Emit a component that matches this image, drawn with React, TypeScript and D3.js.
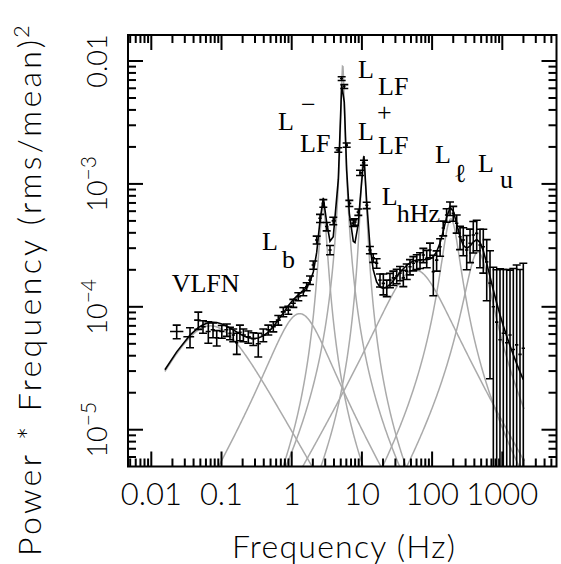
import React from 'react';
import * as d3 from 'd3';

// ---- Data ----
const freq = [
  0.023, 0.0356, 0.0467, 0.0545, 0.0649, 0.0757, 0.0855, 0.101, 0.119, 0.132,
  0.147, 0.165, 0.183, 0.205, 0.241, 0.284, 0.334, 0.394, 0.464, 0.547,
  0.644, 0.759, 0.895, 1.054, 1.242, 1.463, 1.635, 1.82, 2.03, 2.27,
  2.53, 2.82, 3.15, 3.51, 3.91, 4.61, 5.15, 5.61, 6.07, 6.62,
  7.54, 7.97, 8.89, 9.4, 10.7, 11.7, 13.0, 14.5, 16.2, 18.1,
  20.2, 22.6, 25.1, 28.0, 31.3, 34.9, 38.9, 43.5, 48.4, 54.0,
  60.4, 67.3, 75.0, 83.8, 93.3, 104, 116, 130, 144, 161,
  180, 200, 224, 250, 278, 311, 347, 386, 432, 481,
  536, 600, 668, 745, 832, 927, 1033, 1156, 1288, 1435,
  1603, 1787, 1991,
];
const power = [
  6.3e-5, 5.7e-5, 7.8e-5, 6.9e-5, 6.3e-5, 6.5e-5, 5.6e-5, 6.3e-5, 6.5e-5, 6.1e-5,
  5.9e-5, 5.1e-5, 6.2e-5, 5.9e-5, 5.7e-5, 5.5e-5, 5.0e-5, 5.9e-5, 6.5e-5, 6.9e-5,
  7.8e-5, 9.1e-5, 9.4e-5, 1.07e-4, 1.21e-4, 1.33e-4, 1.46e-4, 1.65e-4, 2.19e-4, 3.5e-4,
  5.25e-4, 6.95e-4, 4.5e-4, 2.9e-4, 5.0e-4, 1.89e-3, 7.2e-3, 6.2e-3, 2.07e-3, 6.95e-4,
  4.8e-4, 4.9e-4, 5.9e-4, 1.23e-3, 1.49e-3, 6.7e-4, 2.9e-4, 2.5e-4, 2.26e-4, 1.65e-4,
  1.55e-4, 1.43e-4, 1.65e-4, 1.72e-4, 1.78e-4, 1.88e-4, 1.72e-4, 1.95e-4, 2.12e-4, 2.26e-4,
  2.33e-4, 2.4e-4, 2.64e-4, 2.48e-4, 2.9e-4, 1.93e-4, 2.4e-4, 3.08e-4, 4.38e-4, 5.58e-4,
  6.33e-4, 5.77e-4, 4.78e-4, 3.72e-4, 3.5e-4, 2.9e-4, 3.29e-4, 3.84e-4, 3.96e-4, 3.18e-4,
  3.08e-4, 2.32e-4, 1.56e-4, 1.0e-4, 7.5e-5, 5.4e-5, 6.1e-5, 5.1e-5, 5.9e-5, 4.5e-5,
  4.9e-5, 4.1e-5, 4.6e-5,
];
const powerErr = [
  8e-6, 1.05e-5, 1.25e-5, 8e-6, 1.25e-5, 9e-6, 8e-6, 7.5e-6, 7.5e-6, 7e-6,
  7e-6, 1.0e-5, 9e-6, 7e-6, 6.5e-6, 6.5e-6, 1.1e-5, 7e-6, 6e-6, 6.5e-6,
  7e-6, 8e-6, 7e-6, 8e-6, 9e-6, 1.0e-5, 1.1e-5, 1.3e-5, 1.7e-5, 2.6e-5,
  4e-5, 5e-5, 3.5e-5, 2.5e-5, 3.5e-5, 8e-5, 2.5e-4, 2.2e-4, 8e-5, 4e-5,
  3e-5, 3e-5, 3.5e-5, 6e-5, 7e-5, 4e-5, 2e-5, 2e-5, 2e-5, 2e-5,
  3e-5, 2.2e-5, 2.2e-5, 2.3e-5, 2.4e-5, 2.5e-5, 2.6e-5, 2.8e-5, 3e-5, 3e-5,
  3.2e-5, 3.5e-5, 3.5e-5, 4e-5, 4e-5, 7e-5, 4.5e-5, 5e-5, 6e-5, 7e-5,
  8e-5, 8e-5, 8e-5, 8e-5, 9e-5, 9e-5, 1.0e-4, 1.1e-4, 1.1e-4, 1.1e-4,
  1.2e-4, 1.2e-4, 1.3e-4, 1.1e-4, 1.25e-4, 1.5e-4, 1.4e-4, 1.5e-4, 1.4e-4, 1.6e-4,
  1.7e-4, 1.6e-4, 1.8e-4,
];

// Lorentzian components: characteristic frequency (Hz), quality factor, peak of nu*P
const compNames = ['VLFN', 'Lb', 'LLF-', 'LLF', 'LLF+', 'LhHz', 'Ll', 'Lu'];
const compNuMax = [0.07, 1.3, 2.8, 5.33, 10.5, 57, 185, 450];
const compQ = [0, 0.4, 4, 10, 6, 0.3, 1.8, 1.2];
const compPeak = [7.0e-5, 8.8e-5, 6.5e-4, 9.3e-3, 1.66e-3, 2.0e-4, 5.2e-4, 2.8e-4];

const modelStart = 1 / 64;
const modelEnd = 2048;

const xMajor = [0.01, 0.1, 1, 10, 100, 1000];
const xMajorLabels = ['0.01', '0.1', '1', '10', '100', '1000'];
const yMajor = [1e-2, 1e-3, 1e-4, 1e-5];
const yMajorBase = ['0.01', '10', '10', '10'];
const yMajorExp = ['', '\u22123', '\u22124', '\u22125'];

// ---- Layout ----
const W = 561;
const H = 564;
const PL = 128;
const PR = 556.5;
const PT = 35;
const PB = 466.5;

const SANS = 'Lato, Liberation Sans, Arial, sans-serif';
const SANS_W = 300;
const SERIF = 'Liberation Serif, Times New Roman, serif';

function lorentz(numax: number, q: number, peak: number) {
  const nu0 = q > 0 ? numax / Math.sqrt(1 + 1 / (4 * q * q)) : 0;
  const delta = q > 0 ? nu0 / (2 * q) : numax;
  const shape = (nu: number) => (nu * delta) / (delta * delta + (nu - nu0) * (nu - nu0));
  const norm = peak / shape(numax);
  return (nu: number) => norm * shape(nu);
}

export default function App() {
  const x = d3.scaleLog().domain([0.004656, 5916]).range([PL, PR]);
  const y = d3.scaleLog().domain([5.02e-6, 0.01628]).range([PB, PT]);
  const [xd0, xd1] = x.domain();
  const [yd0, yd1] = y.domain();

  const comps = compNuMax.map((nm, i) => lorentz(nm, compQ[i], compPeak[i]));
  const total = (nu: number) => comps.reduce((s, f) => s + f(nu), 0);

  const lg0 = Math.log10(modelStart);
  const lg1 = Math.log10(modelEnd);
  const grid = d3.range(701).map((i) => Math.pow(10, lg0 + (i * (lg1 - lg0)) / 700));

  const line = d3
    .line<[number, number]>()
    .x((d) => x(d[0]))
    .y((d) => y(Math.max(d[1], 1e-9)));

  const compPaths = comps.map((f) => line(grid.map((nu) => [nu, f(nu)] as [number, number])) || '');
  const modelFreqs = [modelStart, ...freq];
  const modelPath = line(modelFreqs.map((nu) => [nu, total(nu)] as [number, number])) || '';

  const xMinor: number[] = [];
  for (let k = -3; k <= 3; k++) for (let d = 2; d <= 9; d++) {
    const v = d * Math.pow(10, k);
    if (v > xd0 && v < xd1) xMinor.push(v);
  }
  const yMinor: number[] = [];
  for (let k = -6; k <= -2; k++) for (let d = 2; d <= 9; d++) {
    const v = d * Math.pow(10, k);
    if (v > yd0 && v < yd1) yMinor.push(v);
  }

  const logs = freq.map((f) => Math.log10(f));
  const n = freq.length;
  const bars = freq.map((f, i) => {
    const lo = i > 0 ? (logs[i - 1] + logs[i]) / 2 : logs[0] - (logs[1] - logs[0]) / 2;
    const hi = i < n - 1 ? (logs[i] + logs[i + 1]) / 2 : logs[i] + (logs[i] - logs[i - 1]) / 2;
    const p = power[i];
    const e = powerErr[i];
    const yc = y(p);
    const yt = y(p + e);
    const yb = p - e > 0 ? Math.min(y(p - e), PB + 4) : PB + 4;
    return { x1: x(Math.pow(10, lo)), x2: x(Math.pow(10, hi)), xc: x(f), yc, yt, yb };
  });

  const majLen = 15;
  const minLen = 8;
  const cap = 4;

  return (
    <svg width={W} height={H} style={{ position: 'absolute', left: 0, top: 0, background: '#fff' }}>
      <rect x={0} y={0} width={W} height={H} fill="#fff" />
      <defs>
        <clipPath id="plotclip">
          <rect x={PL} y={PT} width={PR - PL} height={PB - PT} />
        </clipPath>
      </defs>

      <g clipPath="url(#plotclip)">
        {compPaths.map((d, i) => (
          <path key={compNames[i]} d={d} fill="none" stroke="#aaaaaa" strokeWidth={1.5} />
        ))}
        {bars.map((b, i) => (
          <g key={i} stroke="#000" strokeWidth={1.6}>
            <line x1={b.x1} x2={b.x2} y1={b.yc} y2={b.yc} />
            <line x1={b.xc} x2={b.xc} y1={b.yt} y2={b.yb} />
            <line x1={b.xc - cap} x2={b.xc + cap} y1={b.yt} y2={b.yt} />
            <line x1={b.xc - cap} x2={b.xc + cap} y1={b.yb} y2={b.yb} />
          </g>
        ))}
        <path d={modelPath} fill="none" stroke="#000" strokeWidth={1.6} />
      </g>

      <rect x={PL} y={PT} width={PR - PL} height={PB - PT} fill="none" stroke="#000" strokeWidth={2} />

      <g stroke="#000" strokeWidth={2}>
        {xMajor.map((v) => (
          <g key={'xM' + v}>
            <line x1={x(v)} x2={x(v)} y1={PB} y2={PB - majLen} />
            <line x1={x(v)} x2={x(v)} y1={PT} y2={PT + majLen} />
          </g>
        ))}
        {xMinor.map((v) => (
          <g key={'xm' + v}>
            <line x1={x(v)} x2={x(v)} y1={PB} y2={PB - minLen} />
            <line x1={x(v)} x2={x(v)} y1={PT} y2={PT + minLen} />
          </g>
        ))}
        {yMajor.map((v) => (
          <g key={'yM' + v}>
            <line x1={PL} x2={PL + majLen} y1={y(v)} y2={y(v)} />
            <line x1={PR} x2={PR - majLen} y1={y(v)} y2={y(v)} />
          </g>
        ))}
        {yMinor.map((v) => (
          <g key={'ym' + v}>
            <line x1={PL} x2={PL + minLen} y1={y(v)} y2={y(v)} />
            <line x1={PR} x2={PR - minLen} y1={y(v)} y2={y(v)} />
          </g>
        ))}
      </g>

      <g fontFamily={SANS} fontWeight={SANS_W} fill="#000">
        {xMajor.map((v, i) => (
          <text key={'xl' + v} x={x(v)} y={505} fontSize={31} textAnchor="middle">
            {xMajorLabels[i]}
          </text>
        ))}
        {yMajor.map((v, i) => (
          <text key={'yl' + v} transform={`translate(107,${y(v)}) rotate(-90)`} fontSize={27} textAnchor="middle">
            {yMajorBase[i]}
            {yMajorExp[i] ? (
              <tspan dy={-11} fontSize={21}>
                {yMajorExp[i]}
              </tspan>
            ) : null}
          </text>
        ))}
        <text x={232} y={558} fontSize={32} textLength={223} lengthAdjust="spacing">
          Frequency (Hz)
        </text>
        <text transform="translate(41,556) rotate(-90)" fontSize={32} textLength={516} lengthAdjust="spacing">
          Power * Frequency (rms/mean)
        </text>
        <text transform="translate(29,38) rotate(-90)" fontSize={22}>
          2
        </text>
      </g>

      <g fontFamily={SERIF} fontSize={26} fill="#000">
        <text x={171.7} y={291.7}>VLFN</text>
        <text x={262} y={250}>L</text>
        <text x={282} y={268}>b</text>
        <text x={278} y={130}>L</text>
        <text x={301} y={113}>{'\u2212'}</text>
        <text x={300} y={152}>LF</text>
        <text x={358} y={78}>L</text>
        <text x={378} y={95}>LF</text>
        <text x={358} y={140}>L</text>
        <text x={377} y={121}>+</text>
        <text x={378} y={154}>LF</text>
        <text x={381.7} y={205}>L</text>
        <text x={396.7} y={222}>hHz</text>
        <text x={435} y={163}>L</text>
        <text x={454} y={182}>{'\u2113'}</text>
        <text x={478} y={172}>L</text>
        <text x={500} y={188}>u</text>
      </g>
    </svg>
  );
}
